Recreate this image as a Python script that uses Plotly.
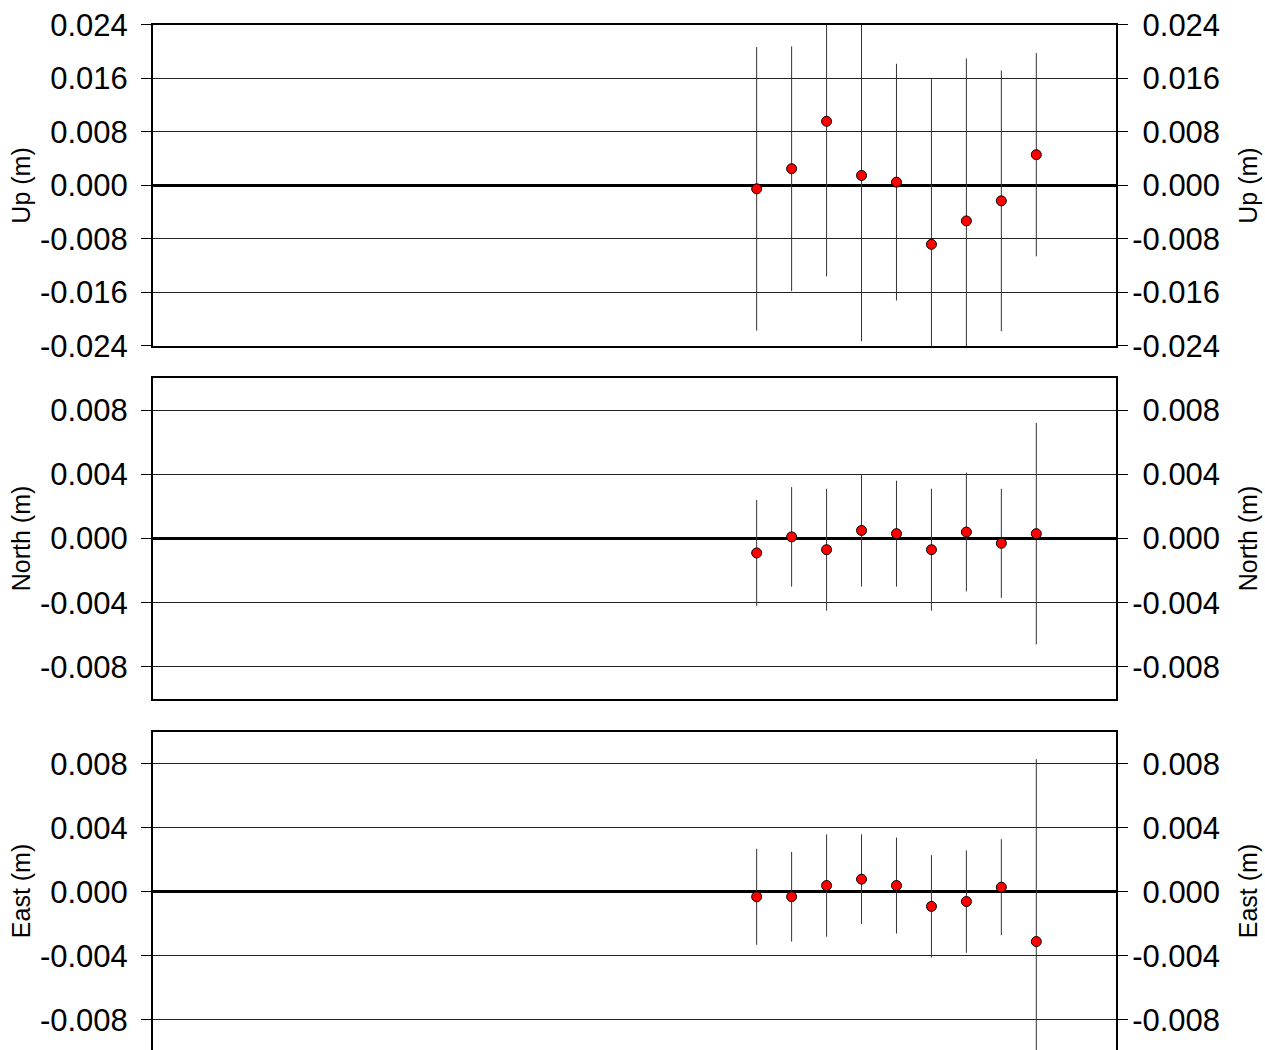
import plotly.graph_objects as go

# epochs (solution index) and station offsets in metres
epochs = [1, 2, 3, 4, 5, 6, 7, 8, 9]

up = [-0.0005, 0.0025, 0.0096, 0.0015, 0.0005, -0.0088, -0.0053, -0.0023, 0.0046]
up_err = [0.0212, 0.0183, 0.0232, 0.0248, 0.0177, 0.0247, 0.0243, 0.0195, 0.0152]

north = [-0.0009, 0.0001, -0.0007, 0.0005, 0.0003, -0.0007, 0.0004, -0.0003, 0.0003]
north_err = [0.0033, 0.0031, 0.0038, 0.0035, 0.0033, 0.0038, 0.0037, 0.0034, 0.0069]

east = [-0.0003, -0.0003, 0.0004, 0.0008, 0.0004, -0.0009, -0.0006, 0.0003, -0.0031]
east_err = [0.0030, 0.0028, 0.0032, 0.0028, 0.0030, 0.0032, 0.0032, 0.0030, 0.0114]

up_ticks = [0.024, 0.016, 0.008, 0.0, -0.008, -0.016, -0.024]
ne_ticks = [0.008, 0.004, 0.0, -0.004, -0.008]


def labels(vals, pad=False):
    # hyphen minus instead of plotly's unicode minus; pad right-side labels so they line up right
    out = []
    for v in vals:
        s = '%.3f' % v
        if pad and v >= 0:
            s = '\u2004' + s
        out.append(s)
    return out


font = 'Liberation Sans, Arial, sans-serif'
panels = [
    # (axis suffix, values, errors, range, ticks, title, domain)
    ('', up, up_err, [-0.024, 0.024], up_ticks, 'Up (m)', [0.6705, 0.9762]),
    ('2', north, north_err, [-0.01, 0.01], ne_ticks, 'North (m)', [0.3343, 0.64]),
    ('3', east, east_err, [-0.009875, 0.01], ne_ticks, 'East (m)', [0.0, 0.3029]),
]

fig = go.Figure()
layout = dict(
    width=1265, height=1050,
    margin=dict(l=153, r=149, t=0, b=0, autoexpand=False),
    paper_bgcolor='white', plot_bgcolor='white',
    showlegend=False,
    font=dict(family=font, color='black'),
)

for i, (n, vals, errs, rng, ticks, title, dom) in enumerate(panels):
    fig.add_trace(go.Scatter(
        x=epochs, y=vals, mode='markers',
        xaxis='x' + n, yaxis='y' + n,
        marker=dict(color='red', size=10, line=dict(color='black', width=1)),
        error_y=dict(type='data', array=errs, visible=True, thickness=1, width=0, color='#333'),
    ))
    right_id = str(4 + i)
    # invisible copy so the right-hand axis gets drawn
    fig.add_trace(go.Scatter(
        x=epochs, y=vals, mode='markers', xaxis='x' + n, yaxis='y' + right_id,
        marker=dict(opacity=0), hoverinfo='skip',
    ))
    ax_common = dict(
        range=rng, tickvals=ticks, ticks='outside', ticklen=10, tickwidth=1, tickcolor='black',
        tickfont=dict(size=31, family=font, color='black'), ticklabeloverflow='allow',
        showline=True, linecolor='black', linewidth=2, automargin=False,
    )
    layout['yaxis' + n] = dict(
        ax_common, domain=dom, anchor='x' + n, side='left', mirror=True,
        ticktext=labels(ticks), ticklabelstandoff=7,
        title=dict(text=title, standoff=2, font=dict(size=25, family=font, color='black')),
        showgrid=True, gridcolor='#222', gridwidth=1,
        zeroline=True, zerolinecolor='black', zerolinewidth=3,
    )
    layout['yaxis' + right_id] = dict(
        ax_common, overlaying='y' + n, anchor='x' + n, side='right',
        ticktext=labels(ticks, pad=True), ticklabelstandoff=-2,
        title=dict(text=title, standoff=20, font=dict(size=25, family=font, color='black')),
        showgrid=False, zeroline=False,
    )
    layout['xaxis' + n] = dict(
        range=[-16.27, 11.28], domain=[0, 1], anchor='y' + n,
        showticklabels=False, ticks='', showgrid=False, zeroline=False,
        showline=True, linecolor='black', linewidth=2, automargin=False,
        mirror=(i < 2), side='bottom' if i < 2 else 'top',
    )

fig.update_layout(**layout)
# drop the browser's default body margin so the figure fills the window exactly
fig.write_html('out.html', config={'displayModeBar': False},
               post_script="document.body.style.margin='0';document.body.style.overflow='hidden';")
